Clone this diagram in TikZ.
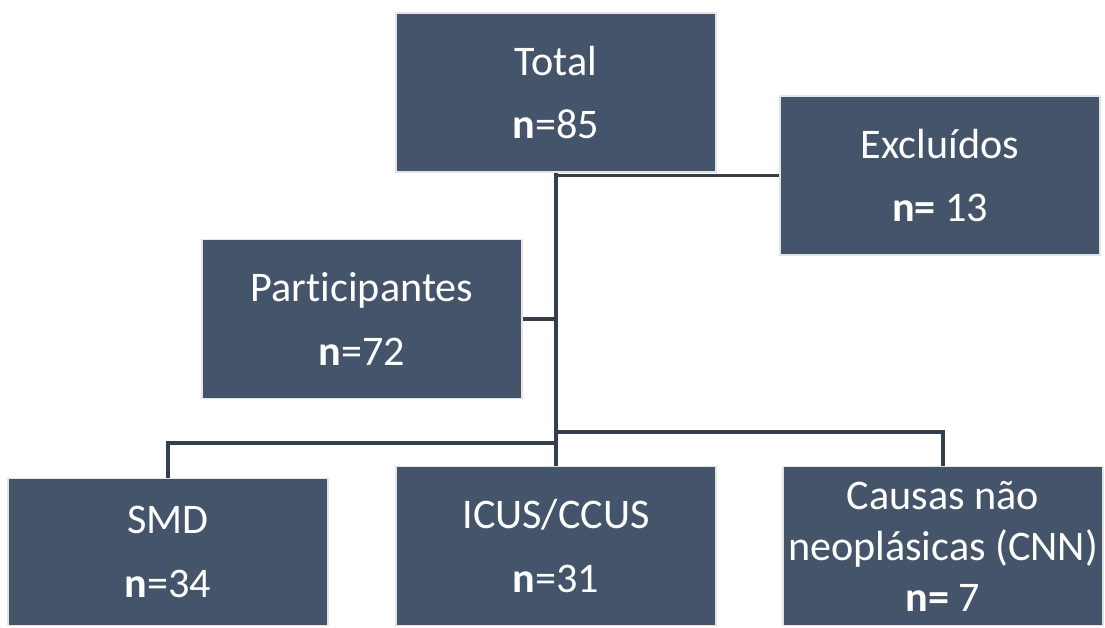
\documentclass[tikz,border=0pt]{standalone}
\usepackage{fontspec}
\setmainfont{Carlito}[Ligatures={NoCommon}]
\usepackage{tikz}
\usetikzlibrary{positioning,calc}
\definecolor{boxfill}{HTML}{44546A}
\definecolor{boxedge}{HTML}{E4E4E4}
\definecolor{linkcol}{HTML}{333F50}

\begin{document}
\begin{tikzpicture}[x=0.02cm, y=-0.02cm,
  grp/.style={rectangle, draw=boxedge, line width=1.1pt, fill=boxfill,
              text=white, minimum width=6.4cm, minimum height=3.18cm,
              align=center, inner sep=0pt,
              font=\fontsize{24}{29}\selectfont},
  lnk/.style={draw=linkcol, line width=1.8pt},
]
  \useasboundingbox (0,0) rectangle (1105,627);
  \node[grp] (total) at (556,92.5) {Total\\[7pt]\textbf{n}=85};
  \node[grp] (excl) at (940,175.5) {Excluídos\\[7pt]\textbf{n=} 13};
  \node[grp] (part) at (362,319) {Participantes\\[7pt]\textbf{n}=72};
  \node[grp, minimum height=2.94cm] (smd) at (168,552) {SMD\\[7pt]\textbf{n}=34};
  \node[grp] (icus) at (556,546) {ICUS/CCUS\\[7pt]\textbf{n}=31};
  \node[grp] (cnn) at (943,546)
    {Causas não\\neoplásicas (CNN)\\\textbf{n=} 7};
  \coordinate (jr) at (556,432);
  \coordinate (jl) at (556,443);
  \draw[lnk] (total.south) -- (icus.north);
  \draw[lnk] (total.south |- excl.west) -- (excl.west);
  \draw[lnk] (part.east) -- (part.east -| total.south);
  \draw[lnk] (jl) -| (smd.north);
  \draw[lnk] (jr) -| (cnn.north);
\end{tikzpicture}
\end{document}
